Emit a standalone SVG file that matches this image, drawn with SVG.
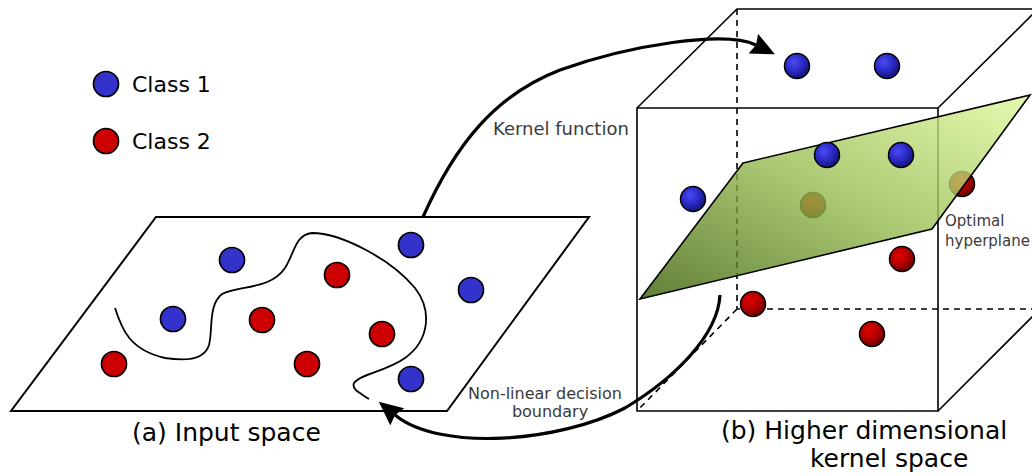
<svg xmlns="http://www.w3.org/2000/svg" width="1032" height="476" viewBox="0 0 1032 476">
<style>
.t{font-family:"DejaVu Sans",Verdana,sans-serif;fill:#000}
.g{font-family:"DejaVu Sans",Verdana,sans-serif;fill:#3a3a3a}
.edge{fill:none;stroke:#000;stroke-width:1.6}
.dash{fill:none;stroke:#000;stroke-width:1.6;stroke-dasharray:6,5}
.b{fill:#3333cc;stroke:#000;stroke-width:1.7}
.r{fill:#cc0000;stroke:#000;stroke-width:1.7}
.sb{fill:url(#gb);stroke:#000;stroke-width:1.5}
.sr{fill:url(#gr);stroke:#000;stroke-width:1.5}
.arrow{fill:none;stroke:#000;stroke-width:3.2;marker-end:url(#ah)}
</style>
<defs>
<radialGradient id="gb" cx="0.38" cy="0.35" r="0.7">
<stop offset="0" stop-color="#4a4af5"/><stop offset="0.55" stop-color="#2828c0"/><stop offset="1" stop-color="#121270"/>
</radialGradient>
<radialGradient id="gr" cx="0.38" cy="0.35" r="0.7">
<stop offset="0" stop-color="#e00000"/><stop offset="0.55" stop-color="#b00000"/><stop offset="1" stop-color="#600000"/>
</radialGradient>
<linearGradient id="gp" x1="1" y1="0" x2="0" y2="1">
<stop offset="0" stop-color="#e0f99c"/><stop offset="0.5" stop-color="#96bb50"/><stop offset="1" stop-color="#3a5f05"/>
</linearGradient>
<marker id="ah" viewBox="0 0 24 22" refX="3" refY="11" markerWidth="24" markerHeight="22" markerUnits="userSpaceOnUse" orient="auto">
<path d="M0,0 L24,11 L0,22 L3,11 z" fill="#000"/>
</marker>
</defs>

<g id="legend">
<circle class="b" cx="106" cy="84" r="12.5"/>
<text class="t" x="132" y="92" font-size="22">Class 1</text>
<circle class="r" cx="106" cy="141" r="12.5"/>
<text class="t" x="132" y="149" font-size="22">Class 2</text>
</g>

<g id="input-space">
<polygon points="156,217 589,217 447,411 11,411" fill="#fff" stroke="#000" stroke-width="2"/>
<path d="M115,308 C122,330 130,350 165,358 C190,362 205,358 209,345 C213,330 208,305 222,294 C240,285 270,290 285,268 C295,252 295,235 312,233 C340,233 390,258 415,288 C432,310 430,340 405,358 C385,372 360,374 354,383 C351,390 362,394 369,399" fill="none" stroke="#000" stroke-width="1.8"/>
<circle class="b" cx="232" cy="260" r="12.5"/>
<circle class="r" cx="337" cy="275" r="12.5"/>
<circle class="b" cx="411" cy="245" r="12.5"/>
<circle class="b" cx="471" cy="290" r="12.5"/>
<circle class="b" cx="173" cy="319" r="12.5"/>
<circle class="r" cx="262" cy="320" r="12.5"/>
<circle class="r" cx="382" cy="334" r="12.5"/>
<circle class="r" cx="114" cy="364" r="12.5"/>
<circle class="r" cx="307" cy="364" r="12.5"/>
<circle class="b" cx="411" cy="379" r="12.5"/>
<text class="t" x="132" y="441" font-size="25">(a) Input space</text>
</g>

<g id="kernel-space">
<path class="dash" d="M737,9 V309 H1040 M737,309 L637,411"/>
<path class="edge" d="M637,108 H938 V411 H637 Z M637,108 L737,9 H1040 M938,108 L1040,7 M938,411 L1040,309"/>
<circle class="sr" cx="813" cy="205" r="12.5"/>
<circle class="sr" cx="962" cy="184" r="12.5"/>
<polygon id="hyperplane" points="743,163 1030,95 932,229 640,299" fill="url(#gp)" fill-opacity="0.8" stroke="#000" stroke-width="1.6"/>
<circle class="sb" cx="797" cy="66" r="12.5"/>
<circle class="sb" cx="887" cy="66" r="12.5"/>
<circle class="sb" cx="827" cy="155" r="12.5"/>
<circle class="sb" cx="901" cy="155" r="12.5"/>
<circle class="sb" cx="693" cy="199" r="12.5"/>
<circle class="sr" cx="902" cy="259" r="12.5"/>
<circle class="sr" cx="753" cy="304" r="12.5"/>
<circle class="sr" cx="872" cy="334" r="12.5"/>
<text class="g" x="945" y="226" font-size="15">Optimal</text>
<text class="g" x="945" y="246" font-size="15">hyperplane</text>
<text class="t" x="721" y="439" font-size="25">(b) Higher dimensional</text>
<text class="t" x="810" y="467" font-size="25">kernel space</text>
</g>

<g id="connectors">
<path class="arrow" d="M423,217 C455,145 495,95 560,70 C630,45 725,30 756,45"/>
<path class="arrow" d="M720,295 C718,335 675,378 625,408 C560,442 440,452 395,415"/>
<text class="g" x="493" y="135" font-size="18">Kernel function</text>
<text class="g" x="468" y="399" font-size="16">Non-linear decision</text>
<text class="g" x="550" y="417" font-size="16" text-anchor="middle">boundary</text>
</g>
</svg>
